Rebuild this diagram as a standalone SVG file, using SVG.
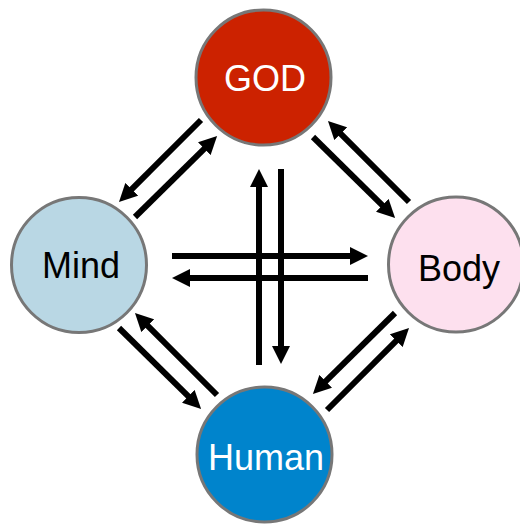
<svg xmlns="http://www.w3.org/2000/svg" width="520" height="526" viewBox="0 0 520 526">
<style>
.node{stroke:#777777;stroke-width:3}
.lbl{font-family:"Liberation Sans",Arial,sans-serif;font-size:36px;text-anchor:middle}
.conn line{stroke:#000;stroke-width:6;marker-end:url(#ah)}
</style>
<defs>
<marker id="ah" markerUnits="userSpaceOnUse" markerWidth="18" markerHeight="18" refX="2" refY="9" orient="auto" viewBox="0 0 18 18">
<path d="M0,0 L18,9 L0,18 z" fill="#000"/>
</marker>
</defs>
<rect width="520" height="526" fill="#fff"/>
<g id="connectors" class="conn">
<line x1="201" y1="120" x2="130.3" y2="190.7"/>
<line x1="135" y1="217" x2="205.7" y2="147.3"/>
<line x1="313" y1="137" x2="383.7" y2="206.7"/>
<line x1="409" y1="202" x2="339.3" y2="132.3"/>
<line x1="119" y1="328" x2="189.7" y2="397.7"/>
<line x1="217" y1="395" x2="146.3" y2="324.3"/>
<line x1="395" y1="313" x2="324.3" y2="382.7"/>
<line x1="327" y1="410" x2="397.7" y2="339.3"/>
<line x1="259" y1="365" x2="259" y2="185"/>
<line x1="281" y1="169" x2="281" y2="348"/>
<line x1="172" y1="256" x2="352" y2="256"/>
<line x1="368" y1="278" x2="188" y2="278"/>
</g>
<g id="god">
<circle class="node" cx="263.5" cy="77.5" r="67.5" fill="#CC2200"/>
<text class="lbl" x="265" y="91" fill="#fff">GOD</text>
</g>
<g id="mind">
<circle class="node" cx="79" cy="265" r="67.5" fill="#B9D7E4"/>
<text class="lbl" x="81" y="278" fill="#000">Mind</text>
</g>
<g id="body">
<circle class="node" cx="456" cy="264.5" r="67.5" fill="#FDE0EE"/>
<text class="lbl" x="459" y="281" fill="#000">Body</text>
</g>
<g id="human">
<circle class="node" cx="264.5" cy="454.5" r="67.5" fill="#0084CC"/>
<text class="lbl" x="266" y="470" fill="#fff">Human</text>
</g>
</svg>
